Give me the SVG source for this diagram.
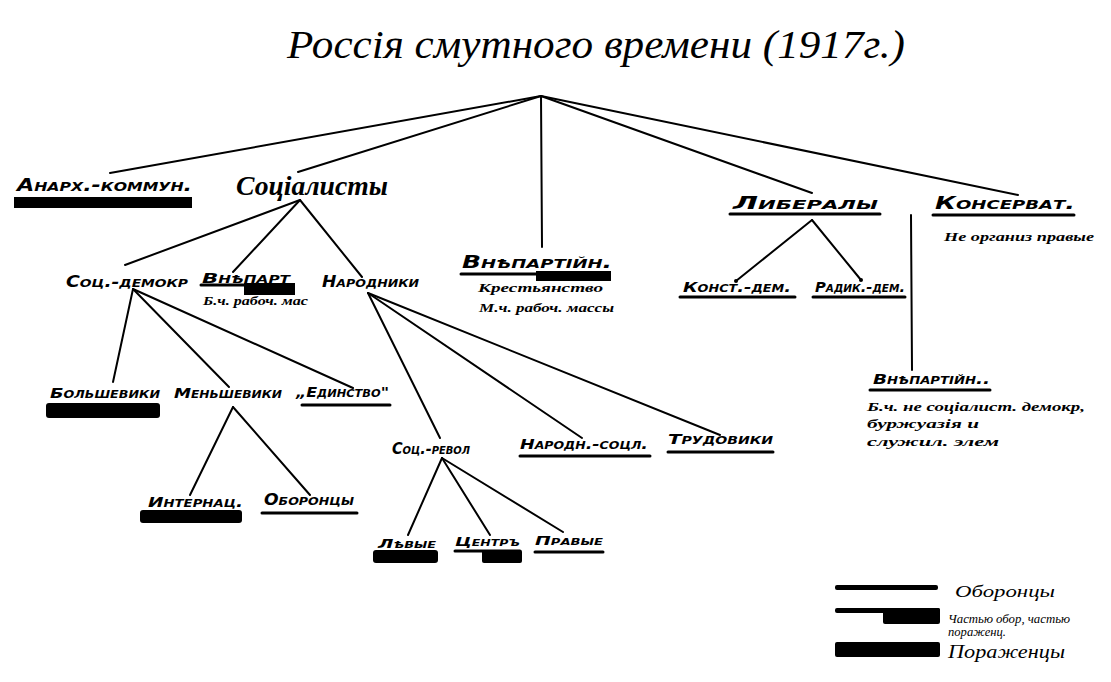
<svg xmlns="http://www.w3.org/2000/svg" width="1111" height="682" viewBox="0 0 1111 682">
<style>
.bg{fill:#ffffff}
.c{stroke:#000;stroke-width:2;fill:none;stroke-linecap:round}
.lbl{font-family:"DejaVu Sans",sans-serif;font-style:oblique;font-weight:bold;font-variant:small-caps;fill:#000}
.hand{font-family:"Liberation Serif",serif;font-style:italic;fill:#000}
.note{font-family:"Liberation Serif",serif;font-style:italic;font-weight:bold;fill:#000;font-size:12px}
.ul{stroke:#000;stroke-width:3;stroke-linecap:round}
.bar{fill:#000}
</style>
<rect class="bg" x="0" y="0" width="1111" height="682"/>
<g id="title"><text class="hand" x="287" y="58" font-size="40" textLength="618" lengthAdjust="spacingAndGlyphs">Россія смутного времени (1917г.)</text></g>
<g id="connectors">
<line class="c" x1="541" y1="96" x2="110" y2="173"/>
<line class="c" x1="541" y1="96" x2="298" y2="172"/>
<line class="c" x1="541" y1="96" x2="542" y2="247"/>
<line class="c" x1="541" y1="96" x2="812" y2="193"/>
<line class="c" x1="541" y1="96" x2="1018" y2="195"/>
<line class="c" x1="300" y1="200" x2="125" y2="265"/>
<line class="c" x1="300" y1="200" x2="233" y2="272"/>
<line class="c" x1="300" y1="200" x2="362" y2="277"/>
<line class="c" x1="133" y1="289" x2="113" y2="382"/>
<line class="c" x1="133" y1="289" x2="229" y2="387"/>
<line class="c" x1="133" y1="289" x2="353" y2="388"/>
<line class="c" x1="233" y1="407" x2="190" y2="495"/>
<line class="c" x1="233" y1="407" x2="310" y2="495"/>
<line class="c" x1="368" y1="293" x2="440" y2="438"/>
<line class="c" x1="368" y1="293" x2="582" y2="438"/>
<line class="c" x1="368" y1="293" x2="720" y2="435"/>
<line class="c" x1="442" y1="458" x2="408" y2="535"/>
<line class="c" x1="442" y1="458" x2="490" y2="535"/>
<line class="c" x1="442" y1="458" x2="563" y2="532"/>
<line class="c" x1="812" y1="220" x2="736" y2="281"/>
<line class="c" x1="812" y1="220" x2="861" y2="280"/>
<line class="c" x1="911" y1="215" x2="912" y2="370"/>
<circle cx="736" cy="281" r="2" fill="#000"/>
<circle cx="861" cy="280" r="2" fill="#000"/>
</g>
<g id="anarch"><text class="lbl" x="17" y="191" font-size="17" textLength="175" lengthAdjust="spacingAndGlyphs">Анарх.-коммун.</text><rect class="bar" x="14" y="197" width="178" height="11"/></g>
<g id="socialists"><text class="hand" x="236" y="195" font-size="27" font-weight="bold" textLength="152" lengthAdjust="spacingAndGlyphs">Соціалисты</text></g>
<g id="socdem"><text class="lbl" x="66" y="287" font-size="15" textLength="122" lengthAdjust="spacingAndGlyphs">Соц.-демокр</text></g>
<g id="vneparty1"><text class="lbl" x="202" y="283" font-size="14" textLength="88" lengthAdjust="spacingAndGlyphs">Внѣпарт</text><line class="ul" x1="201" y1="285" x2="245" y2="285"/><rect class="bar" x="244" y="283" width="51" height="12"/><text class="note" x="203" y="305" font-size="11" textLength="105" lengthAdjust="spacingAndGlyphs">Б.ч. рабоч. мас</text></g>
<g id="narodniki"><text class="lbl" x="322" y="287" font-size="15" textLength="97" lengthAdjust="spacingAndGlyphs">Народники</text></g>
<g id="vneparty2"><text class="lbl" x="462" y="268" font-size="18" textLength="150" lengthAdjust="spacingAndGlyphs">Внѣпартійн.</text><line class="ul" x1="461" y1="274" x2="537" y2="274"/><rect class="bar" x="536" y="271" width="75" height="10"/><text class="note" x="478" y="292" textLength="125" lengthAdjust="spacingAndGlyphs">Крестьянство</text><text class="note" x="479" y="312" textLength="135" lengthAdjust="spacingAndGlyphs">М.ч. рабоч. массы</text></g>
<g id="liberals"><text class="lbl" x="733" y="209" font-size="17" textLength="145" lengthAdjust="spacingAndGlyphs">Либералы</text><line class="ul" x1="730" y1="214" x2="880" y2="214"/></g>
<g id="conserv"><text class="lbl" x="935" y="209" font-size="17" textLength="140" lengthAdjust="spacingAndGlyphs">Консерват.</text><line class="ul" x1="933" y1="215" x2="1074" y2="215"/><text class="note" x="944" y="241" textLength="150" lengthAdjust="spacingAndGlyphs">Не организ правые</text></g>
<g id="kadets"><text class="lbl" x="683" y="292" font-size="14" textLength="108" lengthAdjust="spacingAndGlyphs">Конст.-дем.</text><line class="ul" x1="680" y1="297" x2="795" y2="297"/></g>
<g id="radical"><text class="lbl" x="815" y="292" font-size="14" textLength="90" lengthAdjust="spacingAndGlyphs">Радик.-дем.</text><line class="ul" x1="813" y1="297" x2="905" y2="297"/></g>
<g id="vneparty3"><text class="lbl" x="873" y="384" font-size="14" textLength="117" lengthAdjust="spacingAndGlyphs">Внѣпартійн..</text><line class="ul" x1="870" y1="390" x2="990" y2="390"/><text class="note" x="867" y="411" font-size="11" textLength="218" lengthAdjust="spacingAndGlyphs">Б.ч. не соціалист. демокр,</text><text class="note" x="867" y="428" font-size="11" textLength="112" lengthAdjust="spacingAndGlyphs">буржуазія    и</text><text class="note" x="867" y="446" font-size="11" textLength="132" lengthAdjust="spacingAndGlyphs">служил. элем</text></g>
<g id="bolsheviki"><text class="lbl" x="50" y="398" font-size="14" textLength="110" lengthAdjust="spacingAndGlyphs">Большевики</text><rect class="bar" x="46" y="403" width="114" height="15" rx="3"/></g>
<g id="mensheviki"><text class="lbl" x="174" y="398" font-size="14" textLength="108" lengthAdjust="spacingAndGlyphs">Меньшевики</text></g>
<g id="edinstvo"><text class="lbl" x="296" y="397" font-size="14" textLength="93" lengthAdjust="spacingAndGlyphs">„Единство"</text><line class="ul" x1="302" y1="405" x2="390" y2="405"/></g>
<g id="internac"><text class="lbl" x="148" y="507" font-size="14" textLength="95" lengthAdjust="spacingAndGlyphs">Интернац.</text><rect class="bar" x="140" y="510" width="102" height="13" rx="3"/></g>
<g id="oboroncy"><text class="lbl" x="264" y="505" font-size="15" textLength="90" lengthAdjust="spacingAndGlyphs">Оборонцы</text><line class="ul" x1="262" y1="513" x2="357" y2="513"/></g>
<g id="socrev"><text class="lbl" x="392" y="454" font-size="16" textLength="78" lengthAdjust="spacingAndGlyphs">Соц.-револ</text></g>
<g id="narsoc"><text class="lbl" x="520" y="449" font-size="14" textLength="128" lengthAdjust="spacingAndGlyphs">Народн.-соцл.</text><line class="ul" x1="520" y1="456" x2="650" y2="456"/></g>
<g id="trudoviki"><text class="lbl" x="668" y="444" font-size="14" textLength="105" lengthAdjust="spacingAndGlyphs">Трудовики</text><line class="ul" x1="668" y1="452" x2="773" y2="452"/></g>
<g id="levye"><text class="lbl" x="378" y="548" font-size="13" textLength="58" lengthAdjust="spacingAndGlyphs">Лѣвые</text><rect class="bar" x="373" y="550" width="65" height="13" rx="3"/></g>
<g id="centr"><text class="lbl" x="455" y="546" font-size="13" textLength="65" lengthAdjust="spacingAndGlyphs">Центръ</text><line class="ul" x1="455" y1="551" x2="520" y2="551"/><rect class="bar" x="482" y="550" width="40" height="13" rx="2"/></g>
<g id="pravye"><text class="lbl" x="535" y="545" font-size="13" textLength="68" lengthAdjust="spacingAndGlyphs">Правые</text><line class="ul" x1="535" y1="552" x2="603" y2="552"/></g>
<g id="legend">
<rect class="bar" x="835" y="585" width="103" height="5" rx="2"/>
<text class="hand" x="955" y="597" font-size="17" textLength="100" lengthAdjust="spacingAndGlyphs">Оборонцы</text>
<rect class="bar" x="835" y="608" width="105" height="5" rx="2"/>
<rect class="bar" x="883" y="608" width="57" height="16" rx="2"/>
<text class="hand" x="948" y="623" font-size="12" textLength="122" lengthAdjust="spacingAndGlyphs">Частью обор, частью</text>
<text class="hand" x="948" y="636" font-size="12" textLength="58" lengthAdjust="spacingAndGlyphs">пораженц.</text>
<rect class="bar" x="835" y="642" width="105" height="15" rx="2"/>
<text class="hand" x="948" y="658" font-size="18" textLength="117" lengthAdjust="spacingAndGlyphs">Пораженцы</text>
</g>
</svg>
